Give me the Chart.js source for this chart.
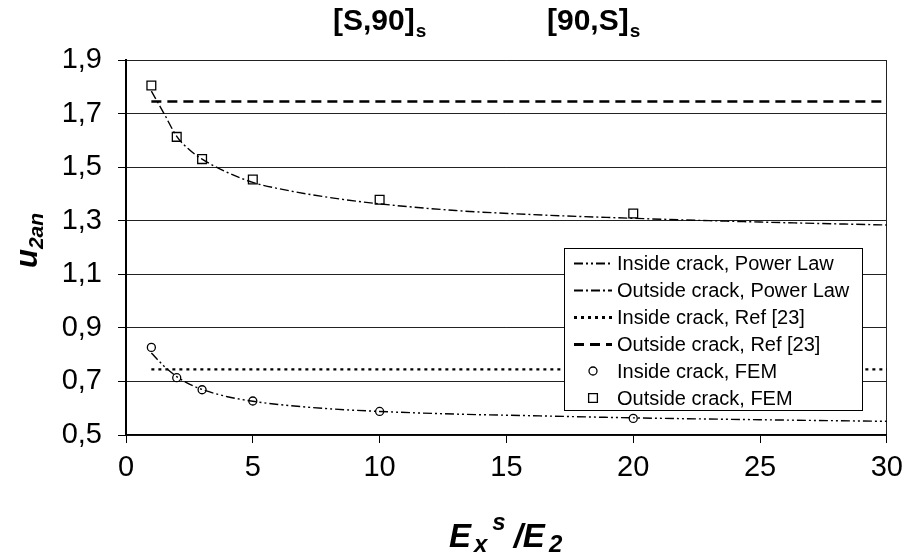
<!DOCTYPE html>
<html>
<head>
<meta charset="utf-8">
<script src="https://cdn.jsdelivr.net/npm/chart.js@4/dist/chart.umd.min.js"></script>
<style>
  html, body { margin: 0; padding: 0; background: #fff; }
  #wrap { width: 911px; height: 556px; position: relative; }
</style>
</head>
<body>
<div id="wrap"><canvas id="chart"></canvas></div>
<script>
// axis ticks
const xTicks = [0, 5, 10, 15, 20, 25, 30];
const yTicks = [0.5, 0.7, 0.9, 1.1, 1.3, 1.5, 1.7, 1.9];

// FEM results
const femX = [1, 2, 3, 5, 10, 20];
const insideFem = [0.827, 0.714, 0.669, 0.627, 0.588, 0.562];
const outsideFem = [1.805, 1.613, 1.530, 1.454, 1.378, 1.327];

// power law fits
const lawX = [1, 1.5, 2, 2.5, 3, 4, 5, 6, 8, 10, 13, 16, 20, 25, 30];
const insideLaw = [0.806, 0.757, 0.718, 0.690, 0.670, 0.643, 0.626, 0.614, 0.598, 0.588, 0.578, 0.572, 0.564, 0.557, 0.551];
const outsideLaw = [1.784, 1.700, 1.615, 1.565, 1.530, 1.480, 1.443, 1.420, 1.387, 1.363, 1.338, 1.323, 1.309, 1.295, 1.284];

// Ref [23]
const refX = [1, 30];
const insideRef = [0.745, 0.745];
const outsideRef = [1.745, 1.745];

const seriesNames = [
  'Inside crack, Power Law',
  'Outside crack, Power Law',
  'Inside crack, Ref [23]',
  'Outside crack, Ref [23]',
  'Inside crack, FEM',
  'Outside crack, FEM'
];

const FONT = "'Liberation Sans', Arial, sans-serif";
const pts = (xs, ys) => xs.map((x, i) => ({ x: x, y: ys[i] }));

function lineSet(label, xs, ys, dash, width) {
  return {
    label: label,
    data: pts(xs, ys),
    showLine: true,
    borderColor: '#000',
    borderWidth: width,
    borderDash: dash,
    pointRadius: 0,
    cubicInterpolationMode: 'monotone',
    fill: false
  };
}

function markSet(label, xs, ys, style, radius) {
  return {
    label: label,
    data: pts(xs, ys),
    showLine: false,
    pointStyle: style,
    pointRadius: radius,
    pointBorderWidth: 1.3,
    pointBorderColor: '#000',
    pointBackgroundColor: 'rgba(255,255,255,0)'
  };
}

// text with sub/superscripts, parts drawn left to right
function drawRich(ctx, parts, x, y) {
  let cx = x;
  parts.forEach(p => {
    ctx.font = p.font;
    ctx.fillText(p.t, cx, y + (p.dy || 0));
    cx += ctx.measureText(p.t).width + (p.gap || 0);
  });
}

const extras = {
  id: 'extras',
  afterDraw(chart) {
    const ctx = chart.ctx;
    ctx.save();
    ctx.fillStyle = '#000';
    ctx.textBaseline = 'alphabetic';
    ctx.textAlign = 'left';

    // layup titles
    drawRich(ctx, [
      { t: '[S,90]', font: 'bold 30px ' + FONT, gap: 1 },
      { t: 's', font: 'bold 19px ' + FONT, dy: 7 }
    ], 333, 30);
    drawRich(ctx, [
      { t: '[90,S]', font: 'bold 30px ' + FONT, gap: 1 },
      { t: 's', font: 'bold 19px ' + FONT, dy: 7 }
    ], 547, 30);

    // x axis title
    drawRich(ctx, [
      { t: 'E', font: 'italic bold 33px ' + FONT, gap: 3 },
      { t: 'x', font: 'italic bold 24px ' + FONT, dy: 5, gap: 5 },
      { t: 's', font: 'italic bold 24px ' + FONT, dy: -17, gap: 8 },
      { t: '/E', font: 'italic bold 33px ' + FONT, gap: 4 },
      { t: '2', font: 'italic bold 24px ' + FONT, dy: 5 }
    ], 449, 547);

    // y axis title, rotated
    ctx.save();
    ctx.translate(37, 268);
    ctx.rotate(-Math.PI / 2);
    drawRich(ctx, [
      { t: 'u', font: 'italic bold 31px ' + FONT },
      { t: '2an', font: 'italic bold 21px ' + FONT, dy: 6 }
    ], 0, 0);
    ctx.restore();

    // legend box
    const bx = 564, by = 248, bw = 298, bh = 162;
    ctx.fillStyle = '#fff';
    ctx.fillRect(bx, by, bw, bh);
    ctx.strokeStyle = '#000';
    ctx.lineWidth = 1;
    ctx.strokeRect(bx + 0.5, by + 0.5, bw, bh);

    ctx.font = '20px ' + FONT;
    ctx.textBaseline = 'middle';
    chart.data.datasets.forEach((ds, i) => {
      const ry = by + 15 + i * 27;
      if (ds.showLine) {
        ctx.save();
        ctx.setLineDash(ds.borderDash || []);
        ctx.lineWidth = ds.borderWidth + 0.6;
        ctx.strokeStyle = '#000';
        ctx.beginPath();
        ctx.moveTo(574, ry + 0.5);
        ctx.lineTo(612, ry + 0.5);
        ctx.stroke();
        ctx.restore();
      } else {
        ctx.save();
        ctx.lineWidth = ds.pointBorderWidth;
        ctx.strokeStyle = '#000';
        ctx.beginPath();
        if (ds.pointStyle === 'rect') {
          const s = ds.pointRadius * Math.SQRT1_2;
          ctx.rect(593 - s, ry - s, 2 * s, 2 * s);
        } else {
          ctx.arc(593, ry, ds.pointRadius, 0, Math.PI * 2);
        }
        ctx.stroke();
        ctx.restore();
      }
      ctx.fillStyle = '#000';
      ctx.fillText(seriesNames[i], 617, ry + 1);
    });
    ctx.restore();
  }
};

new Chart(document.getElementById('chart'), {
  type: 'scatter',
  data: {
    datasets: [
      lineSet(seriesNames[0], lawX, insideLaw, [9, 3, 2, 3, 2, 3], 1.4),
      lineSet(seriesNames[1], lawX, outsideLaw, [9, 3, 2, 3], 1.4),
      lineSet(seriesNames[2], refX, insideRef, [3, 4], 2.4),
      lineSet(seriesNames[3], refX, outsideRef, [10, 6], 2.4),
      markSet(seriesNames[4], femX, insideFem, 'circle', 4),
      markSet(seriesNames[5], femX, outsideFem, 'rect', 6.2)
    ]
  },
  options: {
    responsive: true,
    maintainAspectRatio: false,
    animation: false,
    events: [],
    layout: { padding: { top: 60, right: 20, left: 0, bottom: 0 } },
    plugins: { legend: { display: false }, tooltip: { enabled: false } },
    scales: {
      x: {
        type: 'linear',
        min: 0,
        max: 30,
        afterBuildTicks: s => { s.ticks = xTicks.map(v => ({ value: v })); },
        afterFit: s => { s.height = 121; },
        border: { color: '#000', width: 1.5 },
        grid: {
          color: c => (c.tick && c.tick.value === 30 ? '#222' : 'rgba(0,0,0,0)'),
          tickColor: '#000',
          tickLength: 8,
          lineWidth: 1
        },
        ticks: { color: '#000', padding: 8, font: { family: FONT, size: 29 } }
      },
      y: {
        type: 'linear',
        min: 0.5,
        max: 1.9,
        afterBuildTicks: s => { s.ticks = yTicks.map(v => ({ value: v })); },
        afterFit: s => { s.width = 126; },
        border: { color: '#000', width: 2 },
        grid: { color: '#222', tickColor: '#000', tickLength: 8, lineWidth: 1 },
        ticks: {
          color: '#000',
          padding: 16,
          font: { family: FONT, size: 29 },
          callback: v => v.toFixed(1).replace('.', ',')
        }
      }
    }
  },
  plugins: [extras]
});
</script>
</body>
</html>
